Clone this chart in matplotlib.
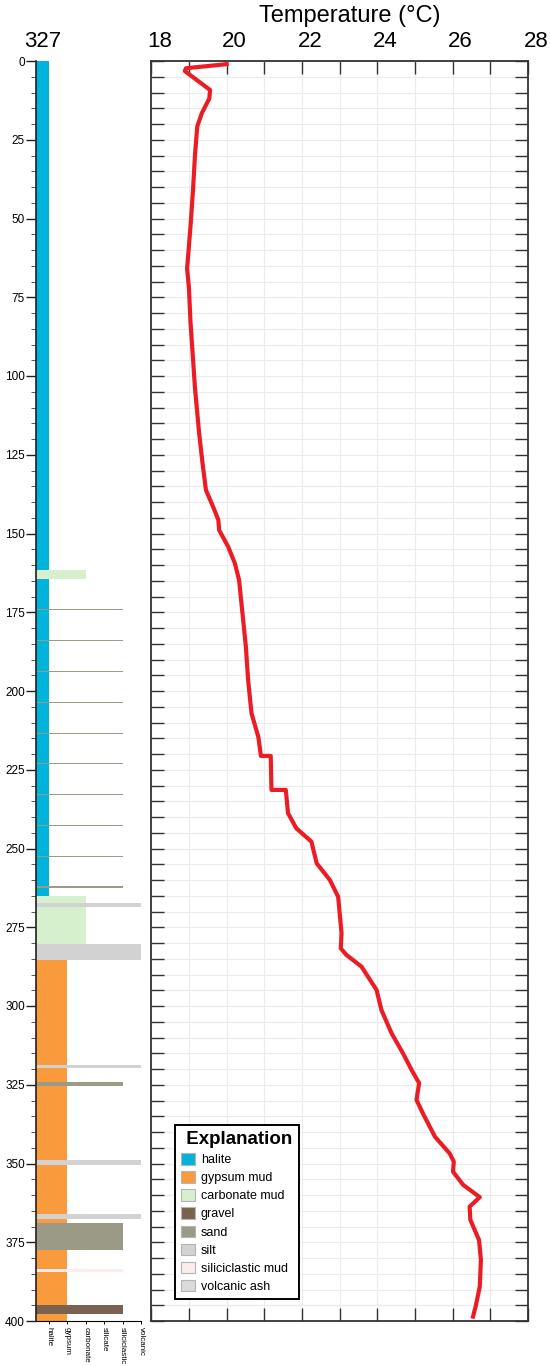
import numpy as np
import matplotlib
matplotlib.use("Agg")
import matplotlib.pyplot as plt
from matplotlib.patches import Patch
from matplotlib.transforms import ScaledTranslation

plt.rcParams['font.family'] = ['Liberation Sans', 'DejaVu Sans']

# ---------------- data ----------------
core_name = "327"
column_labels = ["halite", "gypsum", "carbonate", "silicate", "siliciclastic", "volcanic"]
column_positions = [1, 2, 3, 4, 5, 6]

lithologies = ["halite", "gypsum mud", "carbonate mud", "gravel", "sand", "silt",
               "siliciclastic mud", "volcanic ash"]
lith_colors = ["#00b3db", "#f99a3c", "#d6efcc", "#7b6150", "#9b9a87", "#d2d2d2",
               "#fbedeb", "#dadada"]
# column each lithology extends to
lith_extent = [1, 2, 3, 5, 5, 6, 5, 6]

# layers: top depth, bottom depth, lithology
layer_top = [0.0, 164.5, 161.5,
             174.0, 183.8, 193.6, 203.4, 213.2, 222.9, 232.7, 242.4, 252.3, 262.0,
             265.0, 267.4, 280.4, 285.5,
             318.8, 324.1, 349.0, 366.0, 369.0, 383.6, 394.9]
layer_bottom = [161.5, 265.0, 164.5,
                174.4, 184.2, 194.0, 203.8, 213.6, 223.3, 233.1, 242.8, 252.7, 262.4,
                280.4, 268.6, 285.5, 400.0,
                319.6, 325.4, 350.6, 367.5, 377.5, 384.4, 397.8]
layer_lith = ["halite", "halite", "carbonate mud",
              "sand", "sand", "sand", "sand", "sand", "sand", "sand", "sand", "sand", "sand",
              "carbonate mud", "silt", "silt", "gypsum mud",
              "silt", "sand", "silt", "silt", "sand", "siliciclastic mud", "gravel"]

temp_depth = [1.0, 2.3, 3.2, 9.2, 11.9, 16.6, 20.8, 29.8, 40.4, 51.0, 61.6, 65.8, 72.2,
              82.8, 93.3, 103.9, 118.2, 127.7, 136.2, 141.5, 145.7, 148.9, 154.2, 159.5,
              164.8, 175.3, 185.9, 196.5, 207.1, 214.5, 220.6, 220.6, 231.4, 231.4,
              238.8, 243.6, 247.8, 254.7, 260.0, 265.3, 276.9, 281.7, 283.8, 287.5,
              294.9, 301.3, 308.7, 315.0, 320.3, 324.5, 329.8, 334.1, 341.5, 346.8,
              349.4, 352.6, 356.8, 360.7, 363.7, 367.9, 374.3, 380.6, 389.1, 395.4, 398.6]
temp_value = [20.00, 18.92, 18.89, 19.56, 19.54, 19.34, 19.22, 19.16, 19.11, 19.05, 18.98,
              18.95, 19.00, 19.04, 19.10, 19.16, 19.27, 19.36, 19.45, 19.64, 19.78, 19.80,
              20.04, 20.22, 20.33, 20.42, 20.51, 20.57, 20.66, 20.84, 20.91, 21.17, 21.19,
              21.57, 21.63, 21.85, 22.25, 22.39, 22.74, 22.96, 23.05, 23.03, 23.18, 23.58,
              23.98, 24.11, 24.38, 24.68, 24.91, 25.11, 25.04, 25.21, 25.53, 25.92, 26.03,
              26.01, 26.28, 26.72, 26.45, 26.47, 26.70, 26.75, 26.72, 26.61, 26.54]

# ---------------- figure ----------------
W, H = 550, 1366
fig = plt.figure(figsize=(W / 100, H / 100), dpi=100)

top_px, bot_px = 61, 1321
axL = fig.add_axes([36 / W, (H - bot_px) / H, (141 - 36) / W, (bot_px - top_px) / H])
axT = fig.add_axes([151.3 / W, (H - bot_px) / H, (528 - 151.3) / W, (bot_px - top_px) / H])

# ---- lithology column ----
x0 = 0.3
color_of = dict(zip(lithologies, lith_colors))
extent_of = dict(zip(lithologies, lith_extent))
for t, b, l in zip(layer_top, layer_bottom, layer_lith):
    axL.barh((t + b) / 2, extent_of[l] - x0, height=b - t, left=x0,
             color=color_of[l], linewidth=0, zorder=2 if l in ("halite", "gypsum mud") else 3)

axL.set_xlim(x0, 6.0)
axL.set_ylim(400, 0)
axL.set_yticks(np.arange(0, 401, 25))
axL.set_yticks(np.arange(0, 401, 5), minor=True)
axL.set_xticks(column_positions)
axL.set_xticklabels(column_labels, rotation=-90, fontsize=5.8, va='top', ha='center')
axL.tick_params(axis='y', which='major', length=7, width=1.0, labelsize=8.5, pad=1,
                color='#231f20')
axL.tick_params(axis='y', which='minor', length=3.5, width=0.7, color='#555555')
axL.tick_params(axis='x', length=2.5, width=0.7, pad=2)
for s in ("top", "right"):
    axL.spines[s].set_visible(False)
axL.spines['left'].set_color('#231f20')
axL.spines['left'].set_linewidth(1.2)
axL.spines['bottom'].set_linewidth(0.8)
axL.spines['left'].set_zorder(5)
fig.text(42.5 / W, 1 - 47 / H, core_name, fontsize=16, ha='center', va='baseline')

# ---- temperature panel ----
axT.plot(temp_value, temp_depth, color='#ec1c24', linewidth=3.0, zorder=4,
         solid_joinstyle='round')
axT.set_xlim(18, 28)
axT.set_ylim(400, 0)
axT.set_xticks(np.arange(18, 29, 2))
axT.set_xticks(np.arange(19, 28, 2), minor=True)
axT.set_yticks(np.arange(0, 401, 5))
axT.set_yticklabels([])
axT.xaxis.tick_top()
axT.tick_params(axis='x', which='both', direction='in', length=9.5, width=1.0,
                top=True, bottom=True, labeltop=True, labelbottom=False,
                labelsize=16, pad=6.7, color='#333333')
axT.tick_params(axis='y', which='both', direction='in', length=9.5, width=1.0,
                left=True, right=True, color='#333333')
off = ScaledTranslation(0.08, 0, fig.dpi_scale_trans)
for lab in axT.get_xticklabels():
    lab.set_transform(lab.get_transform() + off)
axT.grid(True, which='both', color='#ebebeb', linewidth=0.8, zorder=0)
axT.set_axisbelow(True)
for s in axT.spines.values():
    s.set_linewidth(1.3)
    s.set_color('#333333')
fig.text(350 / W, 1 - 22 / H, "Temperature (°C)", fontsize=17, ha='center', va='baseline')

# ---- legend ----
handles = [Patch(facecolor=c, edgecolor='#b5b5b5', linewidth=0.8) for c in lith_colors]
leg = axT.legend(handles, lithologies, loc='lower left',
                 bbox_to_anchor=(175 / W, (H - 1299) / H), bbox_transform=fig.transFigure,
                 title=" Explanation", title_fontproperties={'size': 13.5, 'weight': 'bold'},
                 fontsize=9, handlelength=1.1, handleheight=1.05, labelspacing=0.4,
                 handletextpad=0.45, borderpad=0.5, borderaxespad=0, fancybox=False,
                 framealpha=1, edgecolor='black')
leg._legend_box.align = "left"
leg.get_frame().set_linewidth(1.4)
leg.set_zorder(10)

fig.savefig("out.png", dpi=100)
